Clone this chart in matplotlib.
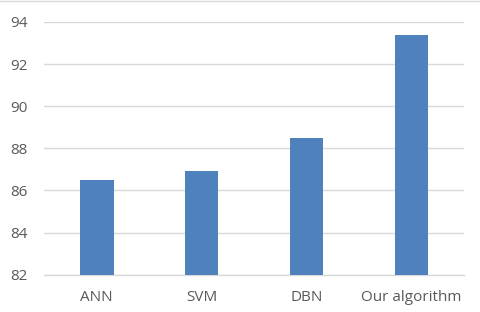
import numpy as np
from matplotlib import pyplot as plt

# accuracy (%) per method
methods = ["ANN", "SVM", "DBN", "Our algorithm"]
accuracy = [86.5, 86.9, 88.5, 93.4]
y_ticks = [82, 84, 86, 88, 90, 92, 94]

plt.rcParams['font.family'] = ['Open Sans', 'DejaVu Sans']

fig = plt.figure(figsize=(4.8, 3.12), dpi=100)
ax = fig.add_axes([0.0923, 0.1196, 0.8744, 0.81])

x = np.arange(len(methods))
ax.bar(x, accuracy, width=0.32, color='#4F81BD', zorder=3)

ax.set_xlim(-0.5, len(methods) - 0.5)
ax.set_ylim(82, 94)
ax.set_yticks(y_ticks)
ax.set_xticks(x)
ax.set_xticklabels(methods)

# excel-like styling
ax.grid(axis='y', color='#D9D9D9', linewidth=1.0, zorder=0)
for side in ['top', 'right', 'left']:
    ax.spines[side].set_visible(False)
ax.spines['bottom'].set_color('#D9D9D9')
ax.spines['bottom'].set_linewidth(1.0)
ax.tick_params(axis='both', length=0, colors='#595959', labelsize=11)
ax.tick_params(axis='x', pad=11)
ax.tick_params(axis='y', pad=12)

# thin chart border at the top edge
fig.add_artist(plt.Line2D([0, 1], [0.998, 0.998], color='#D9D9D9', linewidth=1.0))

fig.savefig("out.png", dpi=100)
